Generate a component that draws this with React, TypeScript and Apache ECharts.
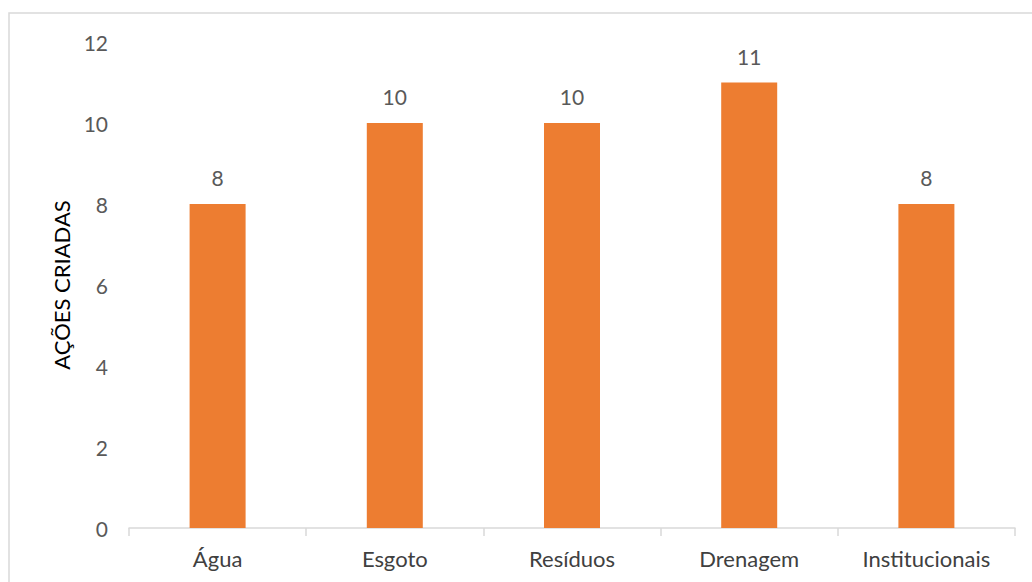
import React, { useEffect, useRef } from "react";
import * as echarts from "echarts";

const categories = ["Água", "Esgoto", "Resíduos", "Drenagem", "Institucionais"];
const acoesCriadas = [8, 10, 10, 11, 8];
const yAxisTitle = "AÇÕES CRIADAS";

const FONT = "Lato, 'Open Sans', sans-serif";

export default function App() {
  const ref = useRef<HTMLDivElement>(null);

  useEffect(() => {
    if (!ref.current) return;
    const chart = echarts.init(ref.current, null, { renderer: "svg" });
    chart.setOption({
      animation: false,
      backgroundColor: "#ffffff",
      textStyle: { fontFamily: FONT },
      graphic: [
        {
          type: "rect",
          shape: { x: 9, y: 13, width: 1200, height: 800 },
          style: { fill: "none", stroke: "#d9d9d9", lineWidth: 1.5 },
          silent: true,
        },
      ],
      grid: { left: 129, right: 17, top: 42, bottom: 54 },
      xAxis: {
        type: "category",
        data: categories,
        axisLine: { show: true, lineStyle: { color: "#d9d9d9", width: 1.5 } },
        axisTick: { show: true, alignWithLabel: false, length: 8, lineStyle: { color: "#d9d9d9", width: 1.5 } },
        axisLabel: { color: "#404040", fontSize: 22, fontFamily: FONT, margin: 19 },
        splitLine: { show: false },
      },
      yAxis: {
        type: "value",
        min: 0,
        max: 12,
        interval: 2,
        name: yAxisTitle,
        nameLocation: "middle",
        nameRotate: 90,
        nameGap: 57,
        nameTextStyle: { color: "#000000", fontSize: 22, fontFamily: FONT },
        axisLine: { show: false },
        axisTick: { show: false },
        splitLine: { show: false },
        axisLabel: { color: "#595959", fontSize: 21, fontFamily: FONT, margin: 21 },
      },
      series: [
        {
          type: "bar",
          data: acoesCriadas,
          barWidth: 56,
          itemStyle: { color: "#ED7D31" },
          label: {
            show: true,
            position: "top",
            distance: 16,
            color: "#595959",
            fontSize: 21,
            fontFamily: FONT,
          },
        },
      ],
    });
    return () => chart.dispose();
  }, []);

  return (
    <div
      ref={ref}
      style={{ position: "fixed", left: 0, top: 0, width: 1032, height: 582 }}
    />
  );
}
